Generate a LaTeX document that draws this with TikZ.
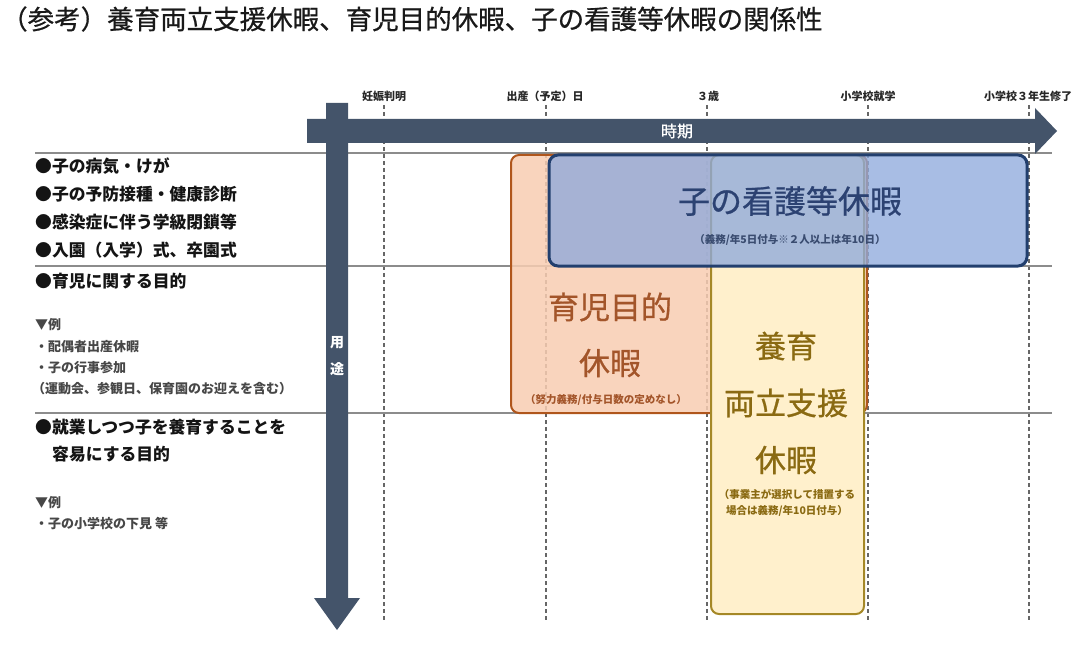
\documentclass[tikz,border=0pt]{standalone}
\usepackage{fontspec}
\setmainfont{Noto Sans CJK JP}
\newfontfamily\jpsemi{Noto Sans CJK JP}[FakeBold=0.7]
\usetikzlibrary{arrows.meta}
\definecolor{arrowc}{HTML}{44546A}
\definecolor{orfill}{HTML}{F8CDB2}
\definecolor{ordraw}{HTML}{B0561C}
\definecolor{ortext}{HTML}{A3552A}
\definecolor{yefill}{HTML}{FFF0CC}
\definecolor{yedraw}{HTML}{A58826}
\definecolor{yetext}{HTML}{8A6A12}
\definecolor{blfill}{HTML}{8FAADC}
\definecolor{bldraw}{HTML}{223F6E}
\definecolor{bltext}{HTML}{2C4272}
\definecolor{blsub}{HTML}{3A4C70}
\begin{document}
\begin{tikzpicture}[x=1pt,y=-1pt,
  lbl/.style={font=\bfseries\fontsize{16.8}{16.8}\selectfont, anchor=west, inner sep=0pt, text=black!92},
  smalltxt/.style={font=\bfseries\fontsize{13}{13}\selectfont, anchor=west, inner sep=0pt, text=black!72},
  tlabel/.style={font=\bfseries\fontsize{11}{11}\selectfont, inner sep=0pt, text=black!85},
  guide/.style={dash pattern=on 4pt off 3pt, line width=1.1pt, black!60},
  rowline/.style={line width=1.5pt, black!45},
  bigtxt/.style={font=\jpsemi\fontsize{31}{31}\selectfont, inner sep=0pt},
  subtxt/.style={font=\bfseries\fontsize{10.5}{16}\selectfont, inner sep=0pt, align=center},
]
\useasboundingbox (0,0) rectangle (1092,655);

% title
\node[anchor=west, inner sep=0pt, font=\jpsemi\fontsize{26.5}{26.5}\selectfont, text=black!90] (title) at (1,19)
  {（参考）養育両立支援休暇、育児目的休暇、子の看護等休暇の関係性};

% dashed time guides
\foreach \x/\n in {384/g1,546/g2,707/g3,868/g4,1029/g5}{
  \coordinate (\n t) at (\x,105);
  \coordinate (\n b) at (\x,621);
  \draw[guide] (\n t) -- (\n b);
}

% time labels
\node[tlabel] (t1) at (384,96) {妊娠判明};
\node[tlabel] (t2) at (545,96) {出産（予定）日};
\node[tlabel] (t3) at (708,96) {３歳};
\node[tlabel] (t4) at (868,96) {小学校就学};
\node[tlabel] (t5) at (1028,96) {小学校３年生修了};

% row lines
\draw[rowline] (35,153) -- (1052,153);
\draw[rowline] (35,266) -- (1052,266);
\draw[rowline] (35,413) -- (1052,413);

% left labels
\node[lbl] (a1) at (35,166) {●子の病気・けが};
\node[lbl] (a2) at (35,194) {●子の予防接種・健康診断};
\node[lbl] (a3) at (35,222) {●感染症に伴う学級閉鎖等};
\node[lbl] (a4) at (35,250) {●入園（入学）式、卒園式};
\node[lbl] (b1) at (35,281) {●育児に関する目的};
\node[smalltxt] (b2) at (35,325) {▼例};
\node[smalltxt] (b3) at (35,347) {・配偶者出産休暇};
\node[smalltxt] (b4) at (35,368) {・子の行事参加};
\node[smalltxt] (b5) at (32,389) {（運動会、参観日、保育園のお迎えを含む）};
\node[lbl] (c1) at (35,427) {●就業しつつ子を養育することを};
\node[lbl] (c2) at (52,454) {容易にする目的};
\node[smalltxt] (c3) at (35,503) {▼例};
\node[smalltxt] (c4) at (35,524) {・子の小学校の下見\ 等};

% boxes
\draw[rounded corners=8pt, line width=2pt, draw=ordraw, fill=orfill, fill opacity=0.85]
  (511,155) rectangle (867,413);
\draw[rounded corners=8pt, line width=2pt, draw=yedraw, fill=yefill]
  (711,155) rectangle (864,614);
\draw[rounded corners=9pt, line width=3pt, draw=bldraw, fill=blfill, fill opacity=0.78]
  (549,155) rectangle (1027,266);

% box texts
\node[bigtxt, text=ortext] (o1) at (610,307) {育児目的};
\node[bigtxt, text=ortext] (o2) at (610,363) {休暇};
\node[subtxt, text=ortext] (o3) at (606,400) {（努力義務/付与日数の定めなし）};

\node[bigtxt, text=yetext] (y1) at (786,346) {養育};
\node[bigtxt, text=yetext] (y2) at (786,403) {両立支援};
\node[bigtxt, text=yetext] (y3) at (786,460) {休暇};
\node[subtxt, text=yetext] (y4) at (787,503) {（事業主が選択して措置する\\場合は義務/年10日付与）};

\node[bigtxt, font=\jpsemi\fontsize{32}{32}\selectfont, text=bltext] (k1) at (790,201) {子の看護等休暇};
\node[subtxt, text=blsub] (k2) at (790,240) {（義務/年5日付与※２人以上は年10日）};

% arrows
\fill[arrowc] (307,119) -- (1035,119) -- (1035,108) -- (1057,131) -- (1035,154) -- (1035,143) -- (307,143) -- cycle;
\fill[arrowc] (326,103) -- (348,103) -- (348,598) -- (360,598) -- (337,630) -- (314,598) -- (326,598) -- cycle;
\node[inner sep=0pt, text=white, font=\jpsemi\fontsize{16}{16}\selectfont] (jiki) at (677,131) {時期};
\node[inner sep=0pt, text=white, font=\bfseries\fontsize{14}{27}\selectfont, align=center] (yoto) at (337,356) {用\\途};
\end{tikzpicture}
\end{document}
